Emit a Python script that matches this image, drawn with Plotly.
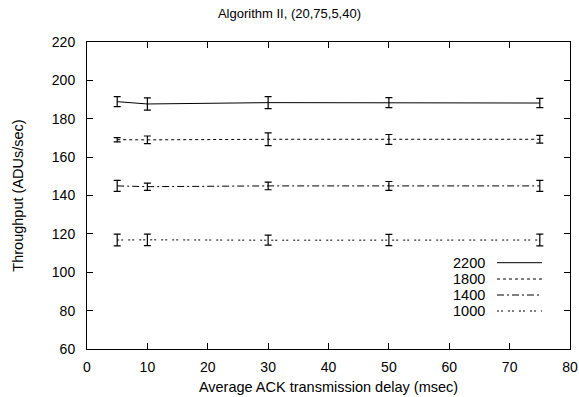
import plotly.graph_objects as go

delay = [5, 10, 30, 50, 75]
series_names = ["2200", "1800", "1400", "1000"]
thr_2200 = [188.9, 187.7, 188.4, 188.4, 188.2]
err_2200 = [2.6, 3.2, 3.1, 2.6, 2.4]
thr_1800 = [169.1, 169.0, 169.3, 169.2, 169.3]
err_1800 = [1.1, 2.0, 3.3, 2.6, 2.0]
thr_1400 = [145.0, 144.6, 145.0, 145.0, 145.0]
err_1400 = [2.9, 1.9, 2.0, 2.3, 2.9]
thr_1000 = [116.8, 116.9, 116.7, 116.8, 116.8]
err_1000 = [3.1, 3.0, 2.6, 2.9, 3.1]

values = [thr_2200, thr_1800, thr_1400, thr_1000]
errors = [err_2200, err_1800, err_1400, err_1000]
dashes = ["solid", "3px,3px", "7px,3px,2px,3px", "2px,2px,2px,5px"]

font = "Liberation Sans, Arial, sans-serif"
fig = go.Figure()
for name, v, e, d in zip(series_names, values, errors, dashes):
    fig.add_trace(go.Scatter(
        x=delay, y=v, name=name, mode="lines",
        line=dict(color="black", width=1, dash=d),
        error_y=dict(type="data", array=e, visible=True, color="black",
                     thickness=1.2, width=3.5),
        showlegend=False))

# custom gnuplot-style legend (text then line sample)
W, H = 579, 397
l, r, t, b = 87, 9, 42, 48
pw, ph = W - l - r, H - t - b
leg_y = [262.7, 279, 295, 311]
for name, d, py in zip(series_names, dashes, leg_y):
    yp = (H - b - py) / ph
    x_text = (487 - l) / pw
    fig.add_annotation(x=x_text, y=yp, xref="paper", yref="paper", text=name,
                       showarrow=False, xanchor="right", yanchor="middle",
                       height=16, valign="middle",
                       font=dict(family=font, size=14.5, color="black"))
    fig.add_shape(type="line", xref="paper", yref="paper",
                  x0=(497 - l) / pw, x1=(542 - l) / pw, y0=yp, y1=yp,
                  line=dict(color="black", width=1, dash=d))

axis_common = dict(showgrid=False, zeroline=False, showline=True, linecolor="black",
                   linewidth=1, mirror="allticks", ticks="inside", ticklen=6,
                   tickcolor="black", tickwidth=1, automargin=False,
                   tickfont=dict(family=font, size=14, color="black"))
fig.update_xaxes(range=[0, 80], dtick=10, tick0=0, ticklabelstandoff=5,
                 title=dict(text="Average ACK transmission delay (msec)", standoff=8,
                            font=dict(family=font, size=14.5, color="black")),
                 **axis_common)
fig.update_yaxes(range=[60, 220], dtick=20, tick0=60, ticklabelstandoff=8,
                 title=dict(text="Throughput (ADUs/sec)", standoff=24,
                            font=dict(family=font, size=14.5, color="black")),
                 **axis_common)
fig.update_layout(
    width=W, height=H,
    margin=dict(l=l, r=r, t=t, b=b),
    paper_bgcolor="white", plot_bgcolor="white",
    title=dict(text="Algorithm II, (20,75,5,40)", x=0.5, xanchor="center",
               y=1 - 13 / H, yanchor="middle",
               font=dict(family=font, size=13, color="black")),
)
fig.write_html("out.html")
